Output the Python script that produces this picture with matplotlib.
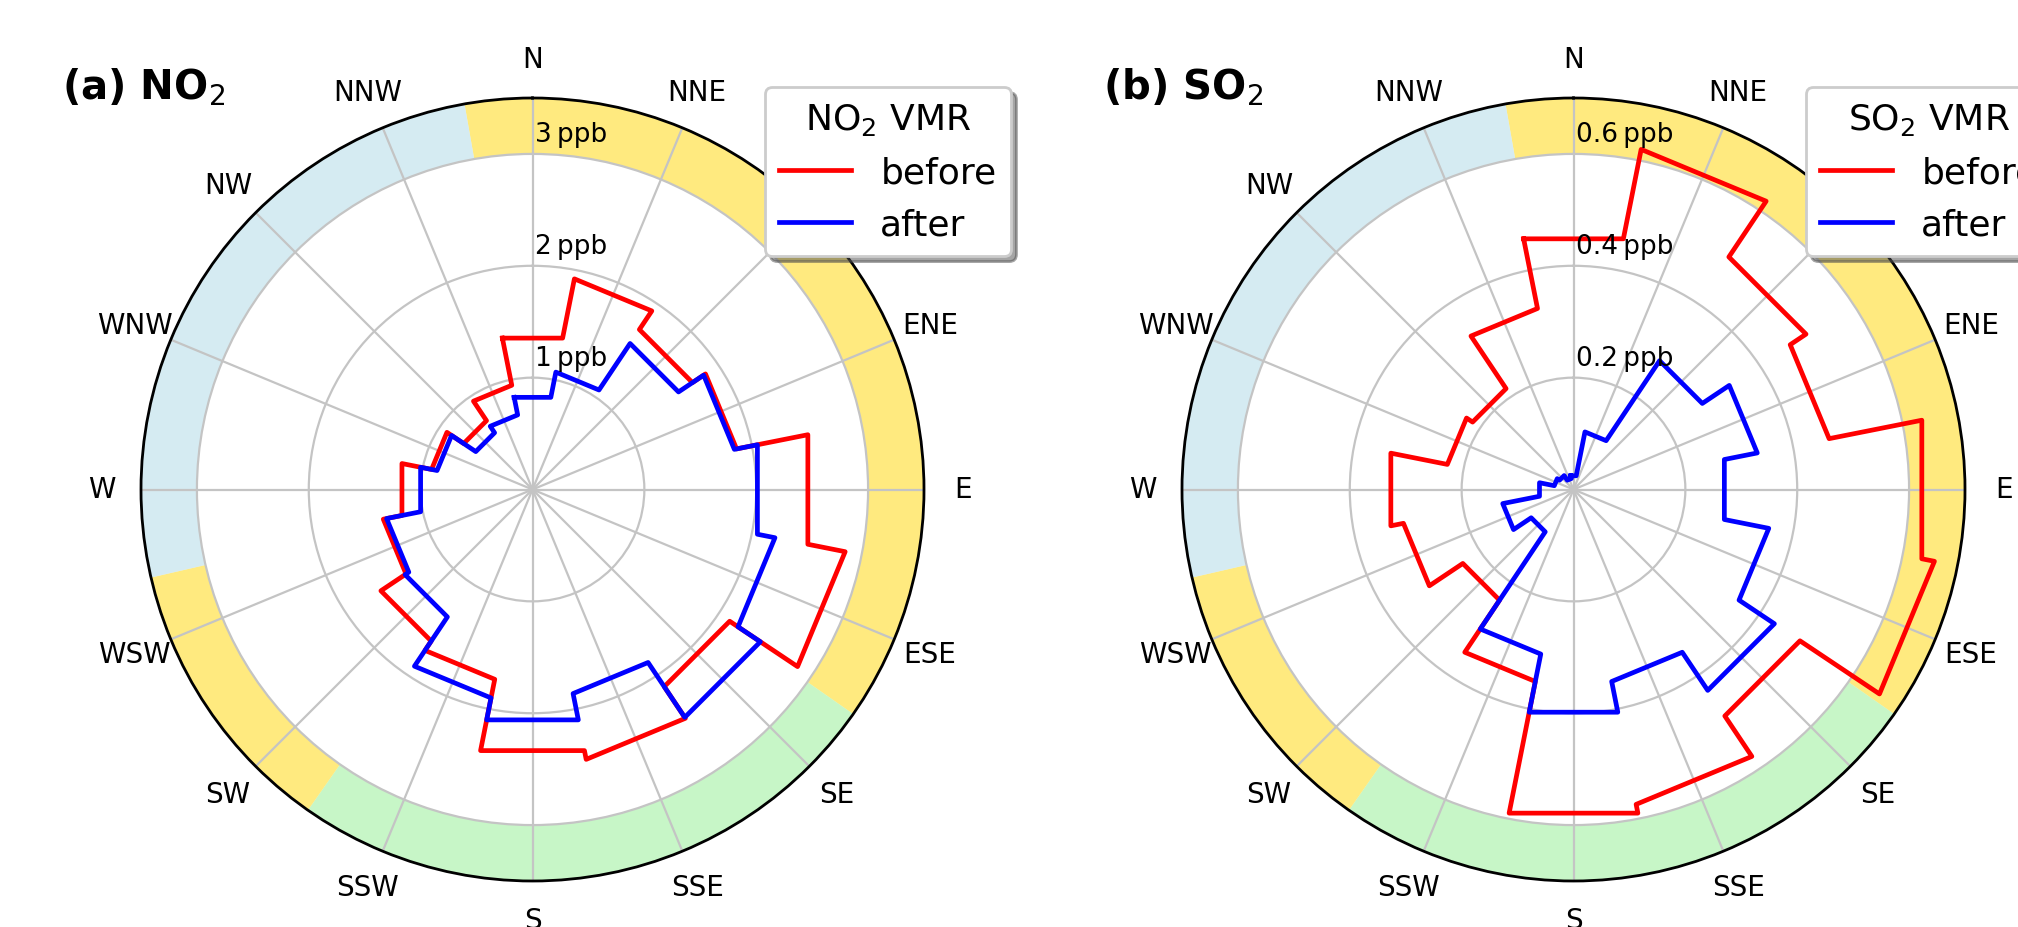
import numpy as np
import matplotlib
matplotlib.use('Agg')
import matplotlib.pyplot as plt

# ---------------- data ----------------
directions = ['N', 'NNE', 'NE', 'ENE', 'E', 'ESE', 'SE', 'SSE',
              'S', 'SSW', 'SW', 'WSW', 'W', 'WNW', 'NW', 'NNW']

no2_before = [1.38, 1.92, 1.72, 1.86, 2.51, 2.85, 2.12, 2.46,
              2.38, 1.73, 1.63, 1.36, 1.19, 0.92, 0.74, 0.95]
no2_after = [0.84, 1.07, 1.57, 1.84, 2.05, 2.21, 2.45, 1.86,
             2.10, 1.90, 1.37, 1.33, 1.02, 0.87, 0.61, 0.68]

so2_before = [0.457, 0.62, 0.50, 0.466, 0.635, 0.658, 0.487, 0.574,
              0.59, 0.35, 0.238, 0.31, 0.333, 0.23, 0.217, 0.33]
so2_after = [0.025, 0.105, 0.277, 0.335, 0.275, 0.356, 0.432, 0.35,
             0.406, 0.30, 0.091, 0.129, 0.062, 0.035, 0.03, 0.02]

no2_rticks = [1, 2, 3]
no2_rlabels = ['1\u2009ppb', '2\u2009ppb', '3\u2009ppb']
no2_rmax = 3.5
so2_rticks = [0.2, 0.4, 0.6]
so2_rlabels = ['0.2\u2009ppb', '0.4\u2009ppb', '0.6\u2009ppb']
so2_rmax = 0.7

# outer sector band (degrees, clockwise from N)
sector_start = [350, 125, 215, 257]
sector_end = [485, 215, 257, 350]
sector_color = ['gold', 'lightgreen', 'gold', 'lightblue']

panel_titles = ['(a) NO$_2$', '(b) SO$_2$']
legend_titles = ['NO$_2$ VMR', 'SO$_2$ VMR']
series_labels = ['before', 'after']
series_colors = ['red', 'blue']

# ---------------- figure ----------------
W, H = 2018, 928
fig = plt.figure(figsize=(W / 200, H / 200), dpi=200)

side = 783
axes_left_px = [141, 1182]
bottom_px = 46


def step_path(vals):
    vals = np.asarray(vals, dtype=float)
    n = len(vals)
    w = 2 * np.pi / n
    centers = np.arange(n) * w
    th = np.column_stack([centers - w / 2, centers + w / 2]).ravel()
    r = np.repeat(vals, 2)
    return np.append(th, th[0]), np.append(r, r[0])


panels = [
    (no2_before, no2_after, no2_rticks, no2_rlabels, no2_rmax),
    (so2_before, so2_after, so2_rticks, so2_rlabels, so2_rmax),
]

for k, (before, after, rticks, rlabels, rmax) in enumerate(panels):
    ax = fig.add_axes([axes_left_px[k] / W, bottom_px / H, side / W, side / H],
                      projection='polar')
    ax.set_theta_zero_location('N')
    ax.set_theta_direction(-1)

    # outer band
    band_bottom = rticks[-1]
    for s, e, c in zip(sector_start, sector_end, sector_color):
        ax.bar(np.deg2rad(s), rmax - band_bottom, width=np.deg2rad(e - s),
               bottom=band_bottom, align='edge', color=c, alpha=0.5,
               edgecolor='none', zorder=1)

    lines = []
    for vals, lab, col in zip([before, after], series_labels, series_colors):
        th, r = step_path(vals)
        ln, = ax.plot(th, r, color=col, lw=1.7, label=lab, zorder=3)
        lines.append(ln)

    ax.set_ylim(0, rmax)
    ax.set_xticks(np.deg2rad(np.arange(len(directions)) * 360 / len(directions)))
    ax.set_xticklabels(directions, fontsize=10)
    ax.tick_params(axis='x', pad=3.5)
    ax.set_yticks(rticks)
    ax.set_yticklabels([])
    for rv, lab in zip(rticks, rlabels):
        ax.annotate(lab, xy=(0, rv), xytext=(1, 2.5), textcoords='offset points',
                    ha='left', va='bottom', fontsize=9.5, zorder=4)
    ax.grid(True, color='#c4c4c4', lw=0.8)
    ax.spines['polar'].set_linewidth(1.0)
    ax.spines['polar'].set_color('black')

    ax.text(-0.101, 1.0, panel_titles[k], transform=ax.transAxes,
            fontsize=14.5, fontweight='bold', ha='left', va='baseline')

    leg = ax.legend(handles=lines, title=legend_titles[k], loc='upper right',
                    bbox_to_anchor=(1.111, 1.014), borderaxespad=0,
                    fontsize=13, title_fontsize=13, shadow=True, framealpha=1,
                    handlelength=2.0)
    leg.set_zorder(10)

fig.savefig('out.png', dpi=200)
